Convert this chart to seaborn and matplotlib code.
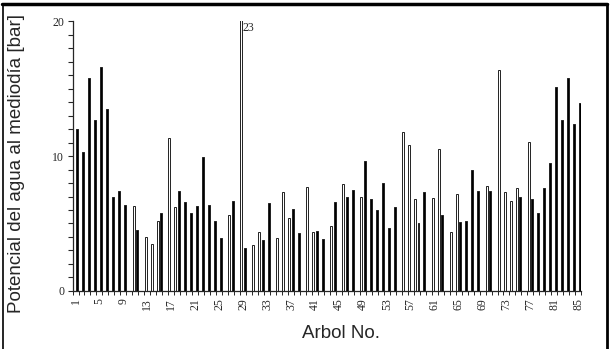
import numpy as np
import pandas as pd
import matplotlib
matplotlib.use("Agg")
import matplotlib.pyplot as plt
import seaborn as sns
from matplotlib.lines import Line2D

# ---- data -------------------------------------------------------------
arbol = list(range(1, 86))
N = None
# white (open) bars
blanco = [N, N, N, N, N, N, N, N, N, N,
          6.3, N, 4.0, 3.5, 5.2, N, 11.3, 6.2, N, N,
          N, N, N, N, N, N, 5.6, N, 23.0, N,
          3.4, 4.4, N, N, 3.9, 7.35, 5.4, N, N, 7.7,
          4.4, N, N, 4.85, N, 7.9, N, N, 7.0, N,
          N, N, N, N, N, 11.75, 10.8, 6.8, N, N,
          6.9, 10.5, N, 4.4, 7.15, N, N, N, N, 7.8,
          N, 16.4, 7.35, 6.7, 7.6, N, 11.05, N, N, N,
          N, N, N, N, N]
# black (filled) bars
negro = [12.0, 10.3, 15.8, 12.7, 16.6, 13.5, 7.0, 7.4, 6.4, N,
         4.5, N, N, N, 5.8, N, N, 7.4, 6.6, 5.8,
         6.3, 9.9, 6.4, 5.2, 3.95, N, 6.7, N, 3.2, N,
         N, 3.8, 6.5, N, N, N, 6.1, 4.3, N, N,
         4.45, 3.85, N, 6.6, N, 7.0, 7.5, N, 9.65, 6.85,
         6.0, 8.0, 4.65, 6.25, N, N, N, 5.0, 7.35, N,
         N, 5.6, N, N, 5.1, 5.2, 9.0, 7.4, N, 7.4,
         N, N, N, N, 6.95, N, 6.8, 5.75, 7.65, 9.5,
         15.1, 12.7, 15.8, 12.4, 13.95]
x_tick_labels = list(range(1, 86, 4))
y_ticks = [0, 10, 20]
clipped_label = "23"

df = pd.DataFrame({
    "Arbol": arbol * 2,
    "serie": ["blanco"] * len(arbol) + ["negro"] * len(arbol),
    "valor": [np.nan if v is None else v for v in blanco + negro],
})

# ---- figure -----------------------------------------------------------
sns.set_style("ticks")
plt.rcParams["font.family"] = ["Liberation Sans", "DejaVu Sans"]

fig = plt.figure(figsize=(6.13, 3.49), dpi=100)
ax = fig.add_axes([0.1183, 0.1662, 0.830, 0.7736])

sns.barplot(data=df, x="Arbol", y="valor", hue="serie", order=arbol,
            hue_order=["blanco", "negro"],
            palette={"blanco": "white", "negro": "black"},
            width=1.2, gap=0.45, errorbar=None, legend=False,
            edgecolor="#222222", linewidth=0.7, ax=ax)

ax.set_ylim(0, 20)
ax.set_xlim(-0.5, 84.5)

# y ticks
ax.set_yticks(y_ticks)
ax.set_yticklabels([str(t) for t in y_ticks], family="Liberation Serif", fontsize=8.5)
ax.set_yticks(np.arange(0, 21, 1), minor=True)
ax.tick_params(axis="y", which="both", direction="out", length=3.5, width=0.8, pad=2.5)

# x ticks
ax.set_xticks([a - 1 for a in x_tick_labels])
ax.set_xticklabels([str(a) for a in x_tick_labels], rotation=90,
                   family="Liberation Serif", fontsize=8.5)
ax.set_xticks(np.arange(-0.5, 85, 1), minor=True)
ax.tick_params(axis="x", which="major", length=0, pad=5)
ax.tick_params(axis="x", which="minor", direction="out", length=3, width=0.7)

ax.set_xlabel("Arbol No.", fontsize=13.5)
ax.set_ylabel("Potencial del agua al mediodía [bar]", fontsize=13.5)
ax.xaxis.set_label_coords(0.527, -0.125)
ax.yaxis.set_label_coords(-0.093, 0.474)

for s in ["top", "right"]:
    ax.spines[s].set_visible(False)
for s in ["left", "bottom"]:
    ax.spines[s].set_linewidth(0.9)

# label for clipped bar
ax.text(arbol.index(29) - 0.1, 19.95, clipped_label, ha="left", va="top",
        family="Liberation Serif", fontsize=8.5)

# outer frame
fig.add_artist(Line2D([0.004, 0.991], [0.988, 0.988], transform=fig.transFigure,
                      color="black", lw=2.5))
fig.add_artist(Line2D([0.005, 0.005], [0.0, 0.988], transform=fig.transFigure,
                      color="black", lw=1.2))
fig.add_artist(Line2D([0.990, 0.990], [0.0, 0.988], transform=fig.transFigure,
                      color="black", lw=2.0))

fig.savefig("out.png", dpi=100)
